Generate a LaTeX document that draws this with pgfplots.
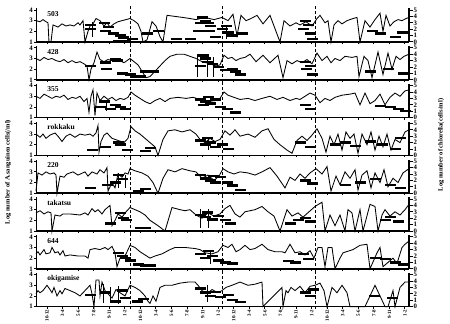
\documentclass[border=0pt]{standalone}
\usepackage{pgfplots}
\pgfplotsset{compat=1.18}
\usepackage{fontspec}
\setmainfont{Liberation Serif}

\pgfplotsset{
 base/.style={scale only axis, width=373pt, height=33.6pt, xmin=36, xmax=409,
   clip=false, tick align=outside, major tick length=2pt,
   tick label style={font=\fontsize{6.8}{6.8}\selectfont\bfseries},
   /pgf/number format/assume math mode=true, axis line style={-}},
 leftax/.style={base, ymin=1, ymax=4.15, ytick={1,2,3,4}, axis x line*=bottom, axis y line*=left,
   x axis line style={line width=1.6pt}, y axis line style={line width=0.8pt},
   xtick={47,62.565,...,406}, xtick style={line width=1pt,black}, ytick style={line width=0.8pt,black},
   xticklabels={}, yticklabel style={inner sep=0.3pt, xshift=-0.7pt}},
 rightax/.style={base, ymin=0, ymax=5.25, ytick={0,...,5}, axis y line*=right, axis x line=none,
   y axis line style={line width=1.4pt}, ytick style={line width=1pt,black}, major tick length=3.5pt,
   yticklabel style={inner sep=0.3pt, xshift=0.7pt}},
 withlabels/.style={xticklabels={10-12,3-4,5-6,7-8,9-11,1-2,10-12,3-4,5-6,7-8,9-11,1-2,10-12,3-4,5-6,7-8,9-11,1-2,10-12,3-4,5-6,7-8,9-11,1-2},
   xticklabel style={rotate=90, anchor=east, inner sep=1pt, font=\fontsize{5}{5}\selectfont\bfseries}},
 nolabels/.style={},
}

\newcommand{\panel}[6]{%
 \begin{axis}[leftax, at={(36pt,-#1pt)}, anchor=south west, #6]
  \addplot[black, line width=0.85pt, mark=none] coordinates {#3};
  \addplot[black, densely dashed, line width=0.9pt, mark=none] coordinates {(130,0.8) (130,4.35)};
  \addplot[black, densely dashed, line width=0.9pt, mark=none] coordinates {(222,0.8) (222,4.35)};
  \addplot[black, densely dashed, line width=0.9pt, mark=none] coordinates {(315,0.8) (315,4.35)};
  \node[anchor=west, font=\fontsize{7.5}{7.5}\selectfont\bfseries, inner sep=0pt] at (rel axis cs:0.03,0.84) {#2};
 \end{axis}
 \begin{axis}[rightax, at={(36pt,-#1pt)}, anchor=south west]
  \addplot[black, only marks, mark=-, mark size=5.5pt, mark options={line width=2.4pt}] coordinates {#4};
  \addplot[draw=none, mark=none, error bars/.cd, y dir=both, y explicit, error mark=none,
     error bar style={draw=black, solid, line width=0.7pt}] coordinates {#5};
 \end{axis}
}

\begin{document}
\begin{tikzpicture}
\path[use as bounding box] (0,0) rectangle (450pt,-324pt);

% 503
\panel{42}{503}{(36,3.0) (40,2.9) (43,3.1) (46,2.9) (48,2.8) (49,1.0) (51,1.0) (53,2.6) (58,2.4) (62,2.7) (66,2.5) (70,2.6) (74,2.5) (78,2.8) (80,2.6) (83,3.0) (85,1.0) (88,2.0) (90,2.5) (93,2.7) (96,3.2) (100,3.0) (104,2.5) (107,2.8) (110,2.4) (114,2.7) (118,2.9) (122,3.0) (126,3.1) (130,3.2) (134,3.0) (138,2.7) (141,2.0) (143,1.0) (147,1.2) (152,2.9) (156,2.5) (160,1.5) (163,1.0) (167,3.5) (175,3.4) (183,3.3) (190,3.2) (196,3.1) (205,3.3) (214,3.1) (222,3.3) (228,3.0) (233,3.6) (237,1.6) (241,3.5) (246,3.0) (251,3.2) (257,3.5) (263,2.7) (270,3.5) (276,2.0) (280,1.0) (284,3.0) (290,2.5) (296,2.8) (300,2.6) (306,2.9) (312,2.5) (317,3.2) (320,3.5) (325,2.8) (328,3.0) (331,1.0) (334,2.6) (338,3.0) (342,2.7) (347,3.0) (353,3.2) (357,3.3) (360,1.0) (365,3.0) (370,2.4) (375,3.1) (380,3.7) (383,2.0) (386,3.5) (390,2.5) (394,2.9) (398,3.1) (402,3.0) (406,3.2) (409,3.3)}
{(90,2.7) (90,2.0) (104,3.0) (105,1.7) (108,2.3) (113,1.3) (118,0.2) (125,0.2) (123,0.7) (120,1.0) (132,0.5) (147,1.3) (158,1.7) (202,3.8) (205,3.3) (200,3.0) (210,2.5) (208,3.0) (198,1.7) (209,1.7) (222,2.0) (226,2.5) (228,1.5) (232,1.0) (242,1.3) (190,0.5) (176,0.5) (215,0.8) (305,3.3) (303,2.0) (308,2.7) (310,1.3) (312,0.5) (372,1.7) (395,0.8) (380,1.3) (402,1.5)}
{(92,2.0) +- (0,1.2) (226,1.5) +- (0,1.0)}{nolabels}

% 428
\panel{79.8}{428}{(36,3.0) (40,2.8) (44,3.1) (48,2.9) (52,3.0) (56,2.8) (60,2.7) (64,2.9) (68,2.6) (72,2.8) (76,2.6) (80,2.7) (84,2.5) (87,2.3) (89,1.0) (91,2.0) (94,2.6) (97,3.6) (100,2.9) (104,2.7) (108,2.9) (112,2.8) (116,3.0) (120,2.8) (124,2.6) (127,2.8) (130,3.0) (134,2.7) (138,2.4) (142,1.8) (146,1.2) (150,1.3) (155,1.8) (160,2.3) (165,2.8) (170,3.2) (177,3.4) (184,3.4) (190,3.2) (196,3.0) (202,2.7) (210,2.5) (216,2.3) (220,2.4) (224,3.3) (228,3.0) (232,3.1) (236,2.8) (240,3.0) (245,3.1) (250,3.4) (256,2.7) (263,3.3) (270,2.6) (278,3.3) (283,1.2) (287,2.8) (292,2.5) (297,2.8) (302,2.6) (307,2.9) (312,2.5) (317,3.5) (322,2.8) (327,3.2) (331,2.6) (335,3.0) (340,2.8) (345,3.2) (352,3.1) (357,3.2) (359,1.3) (364,3.2) (368,2.8) (372,1.2) (378,3.6) (383,1.5) (388,3.5) (392,2.0) (396,3.2) (400,2.9) (404,3.2) (409,3.4)}
{(90,2.2) (105,2.7) (106,1.7) (115,3.2) (117,3.0) (122,1.0) (130,0.8) (135,0.5) (140,0.5) (145,1.3) (153,1.3) (203,3.8) (205,3.3) (207,2.8) (200,2.2) (212,2.5) (218,2.0) (225,1.5) (232,1.7) (235,1.3) (240,0.8) (305,2.8) (306,1.7) (310,2.2) (312,0.8) (370,1.3) (388,1.7) (403,1.0)}
{(197,2.2) +- (0,1.8) (207,2.2) +- (0,1.8) (213,2.0) +- (0,1.6)}{nolabels}

% 355
\panel{117.6}{355}{(36,3.0) (40,2.8) (44,3.2) (48,3.0) (52,2.8) (56,3.0) (60,2.9) (64,3.1) (68,2.7) (72,2.9) (76,2.8) (80,3.0) (84,2.5) (87,2.8) (89,1.5) (91,3.0) (93,3.6) (95,1.2) (97,3.3) (100,2.6) (104,3.0) (108,2.7) (112,2.9) (116,2.6) (120,2.8) (124,2.7) (128,2.9) (131,3.4) (135,3.1) (140,2.8) (145,2.5) (150,2.3) (155,2.6) (160,2.8) (165,2.5) (170,2.8) (178,2.9) (186,2.8) (193,2.9) (200,2.7) (208,2.5) (215,2.6) (220,2.8) (224,3.4) (228,3.1) (234,2.9) (240,2.7) (248,2.8) (255,2.6) (262,2.8) (270,3.0) (277,2.7) (283,2.9) (290,2.6) (296,2.8) (300,2.7) (305,3.0) (310,3.3) (315,3.1) (320,2.4) (325,2.8) (330,2.6) (335,2.9) (342,3.1) (350,3.2) (355,3.3) (360,2.2) (365,3.3) (370,2.3) (375,2.6) (380,3.2) (385,2.2) (390,2.9) (395,3.3) (400,3.0) (405,3.5) (409,3.6)}
{(100,1.7) (104,2.5) (110,1.3) (115,2.0) (120,1.7) (125,1.3) (200,2.8) (205,2.5) (210,2.2) (215,2.8) (203,2.0) (208,3.2) (220,1.7) (227,1.3) (235,0.8) (305,2.0) (310,1.3) (390,1.7) (398,1.3) (405,1.0) (380,1.8)}
{(106,1.8) +- (0,0.8)}{nolabels}

% rokkaku
\panel{155.4}{rokkaku}{(36,3.0) (40,2.7) (43,3.0) (46,2.6) (50,2.9) (55,3.1) (58,2.8) (62,2.3) (66,2.8) (70,3.0) (75,2.7) (80,3.0) (85,2.9) (90,3.0) (93,2.8) (96,3.1) (98,3.8) (99,1.3) (101,2.3) (104,2.9) (107,3.1) (112,2.6) (118,2.4) (124,2.2) (128,2.6) (131,3.7) (135,3.3) (140,3.0) (145,2.6) (150,2.2) (155,1.8) (158,1.0) (163,2.5) (168,3.3) (175,3.4) (182,3.2) (190,3.4) (196,3.0) (200,2.5) (205,2.2) (210,2.6) (215,2.3) (220,2.5) (225,3.3) (230,2.9) (235,3.4) (240,2.8) (248,3.0) (255,2.7) (262,3.3) (268,3.5) (274,2.5) (280,2.0) (287,1.5) (292,1.2) (297,2.4) (302,2.8) (307,2.4) (312,2.9) (317,3.5) (322,2.6) (326,1.3) (330,2.8) (334,2.0) (338,3.0) (342,1.5) (346,3.2) (350,2.6) (354,3.0) (358,1.2) (362,3.0) (367,2.0) (371,3.2) (375,1.5) (379,2.8) (383,1.8) (387,3.0) (391,1.5) (395,2.5) (400,2.2) (405,3.2) (409,3.4)}
{(92,0.8) (105,1.3) (118,2.0) (120,1.7) (127,0.8) (145,0.7) (150,1.2) (200,2.3) (205,1.7) (210,2.0) (207,2.7) (215,1.3) (222,1.7) (228,1.0) (300,2.0) (310,1.3) (335,1.7) (345,2.0) (355,1.5) (370,2.2) (382,1.7) (395,1.0) (400,2.7)}
{(208,1.8) +- (0,1.0)}{nolabels}

% 220
\panel{193.2}{220}{(36,1.2) (38,2.9) (42,2.7) (46,3.0) (50,2.8) (54,2.9) (56,2.7) (57,1.0) (60,2.6) (64,2.5) (67,2.8) (73,3.0) (78,2.7) (85,3.0) (88,2.6) (92,3.0) (97,2.8) (100,3.2) (104,2.9) (107,3.4) (108,1.2) (112,2.0) (115,1.5) (118,2.8) (122,2.5) (125,2.9) (128,2.8) (130,3.3) (135,3.1) (142,2.9) (148,2.6) (153,2.0) (158,1.0) (163,2.4) (168,3.2) (175,3.0) (182,3.3) (190,3.1) (196,3.0) (202,2.4) (208,2.7) (214,2.2) (219,2.6) (223,3.3) (228,3.0) (234,2.8) (240,3.0) (248,2.9) (255,2.7) (262,3.0) (270,3.4) (277,2.6) (285,1.5) (290,2.5) (295,2.2) (300,2.8) (305,2.4) (310,2.9) (316,3.3) (322,2.8) (327,3.5) (331,1.2) (336,2.6) (340,1.8) (345,3.0) (350,2.4) (355,3.2) (358,1.3) (362,2.7) (367,3.1) (371,1.5) (375,2.9) (380,2.0) (384,3.2) (388,1.6) (393,2.4) (398,2.0) (403,2.9) (409,3.3)}
{(90,0.8) (107,1.3) (115,1.7) (118,2.8) (122,2.2) (138,0.3) (145,0.7) (200,2.8) (205,2.3) (210,2.0) (213,2.7) (215,1.7) (220,2.5) (227,1.7) (232,1.2) (240,0.5) (305,2.0) (312,1.5) (345,1.3) (360,1.7) (375,2.2) (390,1.3) (400,0.8)}
{(118,2.0) +- (0,1.2) (125,1.8) +- (0,1.0)}{nolabels}

% takatsu
\panel{231}{takatsu}{(36,2.7) (40,2.9) (44,2.6) (48,2.8) (51,2.7) (52,1.0) (55,2.5) (60,2.4) (63,2.6) (70,2.6) (80,2.5) (85,2.7) (88,2.5) (92,3.1) (95,2.8) (98,3.0) (102,2.6) (105,3.0) (110,3.4) (112,1.5) (115,2.0) (118,2.6) (122,2.3) (126,2.8) (130,3.2) (135,3.0) (140,2.8) (145,2.5) (150,2.0) (158,1.5) (165,1.0) (172,3.2) (180,3.0) (185,2.9) (190,3.0) (196,2.5) (202,2.2) (208,2.7) (214,2.4) (220,2.6) (225,3.1) (230,3.4) (235,2.6) (240,2.3) (245,2.8) (255,3.0) (262,3.3) (268,2.8) (274,2.4) (280,1.0) (287,3.0) (292,2.4) (298,2.7) (303,2.3) (309,2.8) (315,3.3) (322,3.7) (325,1.0) (330,2.5) (335,1.5) (340,2.5) (345,1.0) (348,3.0) (352,2.7) (355,1.0) (360,3.0) (363,1.0) (370,3.5) (375,3.3) (378,1.0) (382,2.5) (385,3.0) (390,2.4) (395,2.8) (400,2.5) (405,3.0) (409,3.5)}
{(110,1.2) (120,2.8) (123,2.0) (126,1.7) (140,0.5) (145,0.5) (200,2.5) (205,2.2) (207,2.9) (212,1.8) (218,2.3) (225,1.7) (230,1.2) (290,1.2) (298,1.7) (305,2.0) (310,1.5) (385,1.7) (390,2.2) (398,1.5)}
{(200,2.0) +- (0,1.5) (208,2.0) +- (0,1.5)}{nolabels}

% 644
\panel{268.8}{644}{(36,2.4) (38,2.6) (40,2.3) (44,2.8) (46,2.4) (50,2.5) (52,3.0) (55,2.5) (58,2.6) (60,2.3) (63,2.7) (65,2.2) (70,2.3) (78,2.2) (85,2.2) (88,2.0) (90,2.8) (95,2.9) (100,2.8) (105,3.0) (108,2.8) (112,3.1) (115,2.5) (117,1.2) (120,2.0) (125,2.2) (130,3.2) (135,3.0) (140,2.6) (145,2.3) (150,2.0) (155,2.2) (162,2.4) (170,2.8) (175,3.0) (185,3.0) (195,2.9) (200,2.8) (205,2.5) (212,2.4) (218,2.6) (223,3.2) (228,3.0) (232,3.3) (236,2.6) (240,2.8) (245,3.2) (250,2.8) (255,2.9) (262,3.3) (268,2.8) (275,2.6) (282,2.6) (285,2.5) (290,3.3) (295,2.5) (300,2.6) (305,2.3) (310,2.7) (314,2.0) (318,3.0) (322,3.0) (325,1.2) (328,3.0) (332,3.0) (335,1.0) (340,2.0) (343,2.5) (353,2.8) (360,3.2) (367,3.3) (370,1.0) (377,2.5) (380,3.0) (383,1.2) (393,2.0) (397,1.5) (402,3.0) (405,3.3) (409,3.6)}
{(118,2.5) (122,2.0) (125,1.7) (130,1.3) (138,0.7) (145,0.5) (150,0.5) (200,2.3) (205,1.7) (208,2.8) (212,2.0) (218,1.3) (225,1.0) (232,0.8) (288,1.2) (295,1.0) (303,2.3) (308,1.5) (375,1.7) (385,1.5) (395,1.0) (403,0.7)}
{(210,1.8) +- (0,1.0)}{nolabels}

% okigamise
\panel{306.6}{okigamise}{(36,2.2) (38,2.5) (40,2.3) (43,2.5) (47,3.0) (50,2.6) (52,2.3) (54,2.8) (57,2.0) (60,2.5) (62,2.2) (65,2.7) (70,2.5) (75,2.3) (80,2.0) (85,2.5) (88,2.8) (90,3.0) (92,2.2) (94,1.0) (96,3.5) (99,3.5) (100,2.0) (102,3.3) (105,2.5) (108,2.2) (112,1.8) (116,2.6) (120,2.3) (125,2.0) (130,3.0) (135,2.8) (140,2.5) (145,2.0) (148,1.5) (150,1.3) (153,2.0) (156,1.5) (160,2.8) (165,3.0) (172,3.0) (180,3.2) (188,3.3) (195,3.3) (198,3.0) (202,2.5) (207,2.2) (212,2.6) (218,2.3) (222,2.5) (226,2.8) (232,3.0) (240,3.3) (248,3.0) (255,3.1) (262,3.3) (263,1.0) (282,2.8) (283,1.0) (286,2.5) (288,2.3) (291,2.8) (295,2.5) (300,2.9) (305,2.3) (310,2.9) (315,3.0) (320,3.2) (324,2.5) (327,1.0) (332,2.8) (337,2.3) (342,3.0) (347,2.3) (350,1.0) (365,1.0) (375,3.0) (385,1.0) (388,1.0) (393,2.5) (395,1.0) (400,2.8) (405,3.3) (409,3.3)}
{(90,1.8) (105,2.2) (115,0.8) (122,2.5) (125,1.3) (137,0.8) (143,1.2) (200,2.8) (205,2.2) (210,1.7) (215,2.3) (220,1.5) (228,1.8) (232,1.0) (240,0.7) (305,2.2) (310,1.7) (313,2.7) (374,1.7) (392,1.3)}
{(103,2.0) +- (0,1.5) (110,1.8) +- (0,1.3) (118,1.8) +- (0,1.4) (207,2.0) +- (0,1.3)}{withlabels}

\node[rotate=90, font=\fontsize{6.5}{6.5}\selectfont\bfseries, inner sep=0pt] at (8pt,-172pt) {Log number of A.sanguinea cells(/ml)};
\node[rotate=90, font=\fontsize{6.5}{6.5}\selectfont\bfseries, inner sep=0pt] at (441pt,-145pt) {Log number of chlorella(cells/ml)};
\end{tikzpicture}
\end{document}
